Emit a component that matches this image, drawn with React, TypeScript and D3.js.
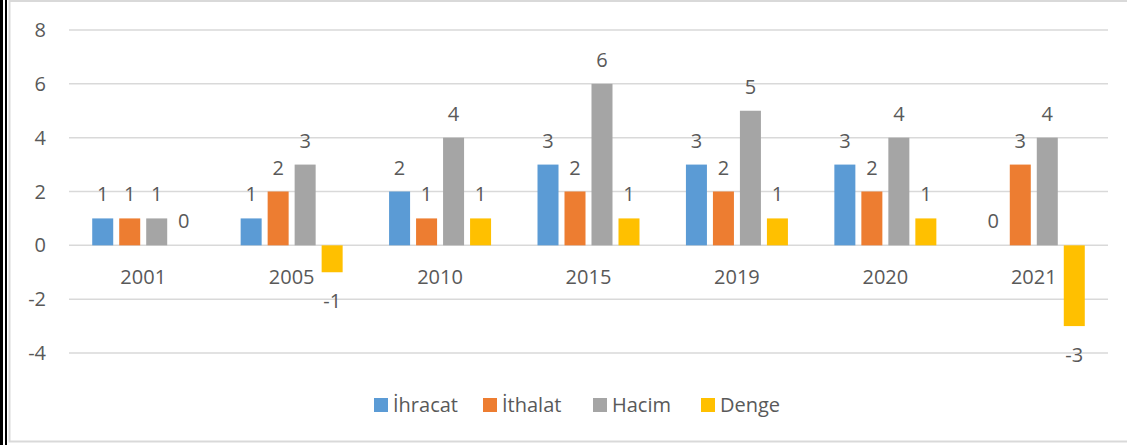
import React from 'react';
import * as d3 from 'd3';

const years = ['2001', '2005', '2010', '2015', '2019', '2020', '2021'];
const seriesNames = ['İhracat', 'İthalat', 'Hacim', 'Denge'];
const ihracat = [1, 1, 2, 3, 3, 3, 0];
const ithalat = [1, 2, 1, 2, 2, 2, 3];
const hacim = [1, 3, 4, 6, 5, 4, 4];
const denge = [0, -1, 1, 1, 1, 1, -3];
const yTicks = [-4, -2, 0, 2, 4, 6, 8];
const colors = ['#5B9BD5', '#ED7D31', '#A5A5A5', '#FFC000'];

const W = 1127;
const H = 445;
const FONT = '"Open Sans", "Noto Sans", sans-serif';
const TXT = '#595959';
const FS = 20;

const App: React.FC = () => {
  const values = [ihracat, ithalat, hacim, denge];

  // category scale for the years
  const x0 = d3.scaleBand<string>().domain(years).range([69, 1108]).padding(0);
  // series within each year
  const x1 = d3
    .scaleBand<string>()
    .domain(seriesNames)
    .range([0, x0.bandwidth()])
    .paddingInner(0.222)
    .paddingOuter(0.86);
  const y = d3.scaleLinear().domain([-4, 8]).range([353, 30]);

  // legend positions (left edge of each square)
  const legendX = [374, 483, 593, 701];

  return (
    <div style={{position: 'fixed', left: 0, top: 0}}>
      <svg width={W} height={H} style={{display: 'block', background: '#fff'}}>
        {/* frame */}
        <rect x={0} y={0} width={3} height={H} fill="#000" />
        <rect x={5} y={0} width={2} height={H} fill="#000" />
        <rect x={9.5} y={1} width={W} height={440.5} fill="none" stroke="#d9d9d9" strokeWidth={2} />

        {/* gridlines and y labels */}
        {yTicks.map((t) => (
          <g key={t}>
            <line x1={69} x2={1108} y1={y(t)} y2={y(t)} stroke="#d9d9d9" strokeWidth={1.5} />
            <text
              x={46}
              y={y(t)}
              dy="0.35em"
              textAnchor="end"
              fontFamily={FONT}
              fontSize={FS}
              fill={TXT}>
              {t}
            </text>
          </g>
        ))}

        {/* bars and value labels */}
        {years.map((yr, i) => (
          <g key={yr} transform={`translate(${x0(yr)},0)`}>
            {seriesNames.map((s, j) => {
              const v = values[j][i];
              const bx = x1(s) as number;
              const top = y(Math.max(0, v));
              const bottom = y(Math.min(0, v));
              const ly = v < 0 ? bottom + 29 : top - 24;
              return (
                <g key={s}>
                  {v !== 0 && (
                    <rect x={bx} y={top} width={x1.bandwidth()} height={bottom - top} fill={colors[j]} />
                  )}
                  <text
                    x={bx + x1.bandwidth() / 2}
                    y={ly}
                    dy="0.35em"
                    textAnchor="middle"
                    fontFamily={FONT}
                    fontSize={FS}
                    fill={TXT}>
                    {v}
                  </text>
                </g>
              );
            })}
            <text
              x={x0.bandwidth() / 2}
              y={277}
              dy="0.35em"
              textAnchor="middle"
              fontFamily={FONT}
              fontSize={FS}
              fill={TXT}>
              {yr}
            </text>
          </g>
        ))}

        {/* legend */}
        {seriesNames.map((s, j) => (
          <g key={s}>
            <rect x={legendX[j]} y={398} width={14} height={14} fill={colors[j]} />
            <text
              x={legendX[j] + 19}
              y={405}
              dy="0.35em"
              fontFamily={FONT}
              fontSize={FS}
              fill={TXT}>
              {s}
            </text>
          </g>
        ))}
      </svg>
    </div>
  );
};

export default App;
